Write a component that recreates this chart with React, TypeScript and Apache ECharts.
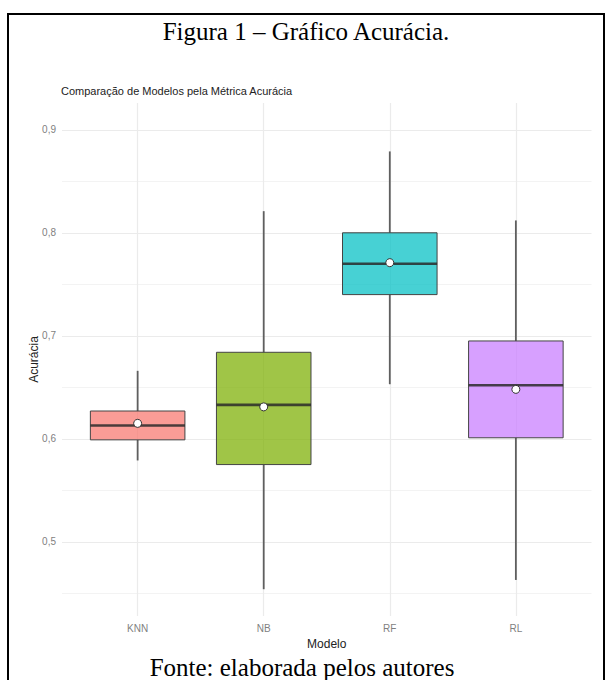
import React, { useEffect, useRef } from "react";
import * as echarts from "echarts";

// Accuracy distribution per model (box-plot statistics)
const models = ["KNN", "NB", "RF", "RL"];
const whiskerLow = [0.579, 0.454, 0.653, 0.463];
const q1 = [0.599, 0.575, 0.74, 0.601];
const median = [0.613, 0.633, 0.77, 0.652];
const q3 = [0.627, 0.684, 0.8, 0.695];
const whiskerHigh = [0.666, 0.821, 0.879, 0.812];
const means = [0.615, 0.631, 0.771, 0.648];
const fills = ["#F8766D", "#7CAE00", "#00BFC4", "#C77CFF"];

const majorTicks = [0.5, 0.6, 0.7, 0.8, 0.9];
const minorTicks = [0.45, 0.55, 0.65, 0.75, 0.85];
const xTicks = [1, 2, 3, 4];

const SANS = "'Liberation Sans', Arial, sans-serif";
const SERIF = "'Liberation Serif', 'Times New Roman', serif";

export default function App() {
  const ref = useRef<HTMLDivElement>(null);

  useEffect(() => {
    if (!ref.current) return;
    const chart = echarts.init(ref.current, undefined, { renderer: "svg" });

    const data = models.map((_, i) => [
      i + 1,
      whiskerLow[i],
      q1[i],
      median[i],
      q3[i],
      whiskerHigh[i],
      means[i],
    ]);

    const renderItem = (params: any, api: any) => {
      const x = api.value(0);
      const i = params.dataIndex;
      const [cx, yLow] = api.coord([x, api.value(1)]);
      const yQ1 = api.coord([x, api.value(2)])[1];
      const yMed = api.coord([x, api.value(3)])[1];
      const yQ3 = api.coord([x, api.value(4)])[1];
      const yHigh = api.coord([x, api.value(5)])[1];
      const yMean = api.coord([x, api.value(6)])[1];
      const half = api.size([0.75, 0])[0] / 2;
      return {
        type: "group",
        children: [
          {
            type: "line",
            shape: { x1: cx, y1: yQ3, x2: cx, y2: yHigh },
            style: { stroke: "#5f5f5f", lineWidth: 1.8 },
          },
          {
            type: "line",
            shape: { x1: cx, y1: yQ1, x2: cx, y2: yLow },
            style: { stroke: "#5f5f5f", lineWidth: 1.8 },
          },
          {
            type: "rect",
            shape: { x: cx - half, y: yQ3, width: half * 2, height: yQ1 - yQ3 },
            style: { fill: fills[i], opacity: 0.72 },
          },
          {
            type: "rect",
            shape: { x: cx - half, y: yQ3, width: half * 2, height: yQ1 - yQ3 },
            style: { fill: "none", stroke: "#444", lineWidth: 1 },
          },
          {
            type: "line",
            shape: { x1: cx - half, y1: yMed, x2: cx + half, y2: yMed },
            style: { stroke: "#2a2a2a", lineWidth: 2.6, opacity: 0.85 },
          },
          {
            type: "circle",
            shape: { cx, cy: yMean, r: 4 },
            style: { fill: "#ffffff", stroke: "#333", lineWidth: 1 },
          },
        ],
      };
    };

    chart.setOption({
      animation: false,
      textStyle: { fontFamily: SANS },
      grid: { left: 62, right: 14.5, top: 103, bottom: 64 },
      xAxis: {
        type: "value",
        min: 0.4,
        max: 4.6,
        name: "Modelo",
        nameLocation: "middle",
        nameGap: 22,
        nameMoveOverlap: false,
        nameTextStyle: { color: "#222", fontSize: 12, fontFamily: SANS },
        axisLine: { show: false },
        axisTick: { show: false, customValues: xTicks },
        axisLabel: {
          customValues: xTicks,
          formatter: (v: number) => models[Math.round(v) - 1] ?? "",
          color: "#7f7f7f",
          fontSize: 10,
          margin: 7,
          fontFamily: SANS,
        },
        splitLine: { show: true, lineStyle: { color: "#ebebeb", width: 1.2 } },
      },
      yAxis: [
        {
          type: "value",
          min: 0.428,
          max: 0.926,
          name: "Acurácia",
          nameLocation: "middle",
          nameGap: 22,
          nameMoveOverlap: false,
          nameTextStyle: { color: "#222", fontSize: 12, fontFamily: SANS },
          axisLine: { show: false },
          axisTick: { show: false, customValues: majorTicks },
          axisLabel: {
            customValues: majorTicks,
            formatter: (v: number) => v.toFixed(1).replace(".", ","),
            color: "#7f7f7f",
            fontSize: 10,
            margin: 6,
            fontFamily: SANS,
          },
          splitLine: { show: true, lineStyle: { color: "#ebebeb", width: 1.2 } },
        },
        {
          type: "value",
          min: 0.428,
          max: 0.926,
          position: "left",
          axisLine: { show: false },
          axisTick: { show: false, customValues: minorTicks },
          axisLabel: { show: false, customValues: minorTicks },
          splitLine: { show: true, lineStyle: { color: "#f3f3f3", width: 1 } },
        },
      ],
      series: [
        {
          type: "custom",
          renderItem,
          data,
          encode: { x: 0, y: [1, 2, 3, 4, 5, 6] },
          z: 5,
        },
      ],
      graphic: [
        {
          type: "rect",
          shape: { x: 8, y: 14, width: 596, height: 700 },
          style: { fill: "none", stroke: "#000", lineWidth: 2 },
          silent: true,
        },
        {
          type: "text",
          x: 306,
          y: 31,
          style: {
            text: "Figura 1 – Gráfico Acurácia.",
            font: `25px ${SERIF}`,
            fill: "#000",
            align: "center",
            verticalAlign: "middle",
          },
        },
        {
          type: "text",
          x: 61,
          y: 91,
          style: {
            text: "Comparação de Modelos pela Métrica Acurácia",
            font: `11px ${SANS}`,
            fill: "#222",
            align: "left",
            verticalAlign: "middle",
          },
        },
        {
          type: "text",
          x: 302,
          y: 667,
          style: {
            text: "Fonte: elaborada pelos autores",
            font: `25px ${SERIF}`,
            fill: "#000",
            align: "center",
            verticalAlign: "middle",
          },
        },
      ],
    });

    return () => chart.dispose();
  }, []);

  return (
    <div
      ref={ref}
      style={{ position: "absolute", left: 0, top: 0, width: 606, height: 680, background: "#fff" }}
    />
  );
}
